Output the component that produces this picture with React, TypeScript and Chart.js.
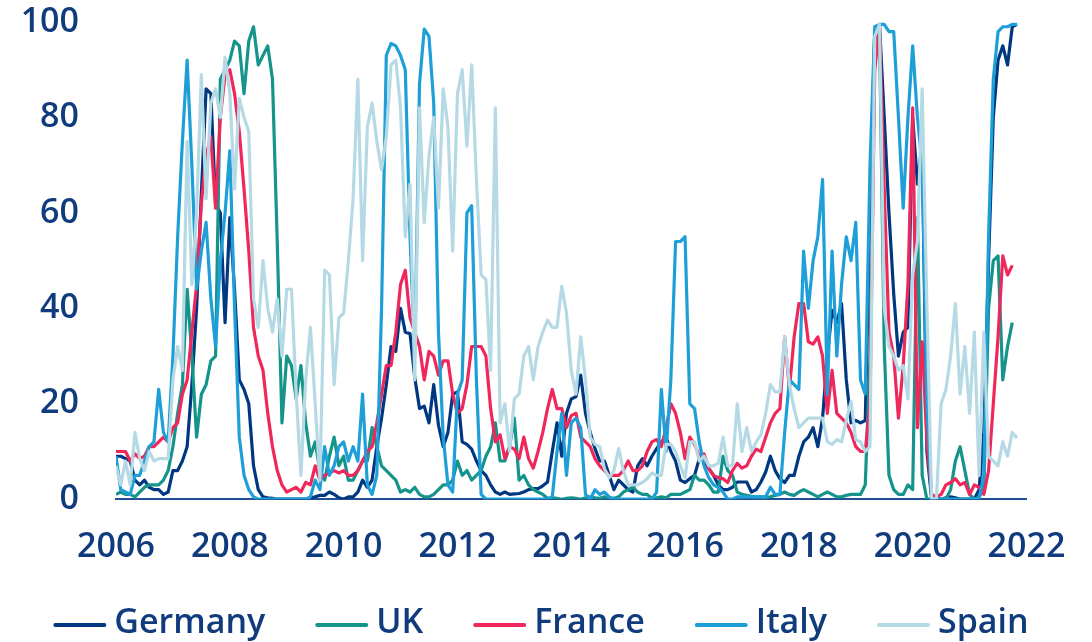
import React, { useEffect, useRef } from "react";
import { Chart, registerables } from "chart.js";

Chart.register(...registerables);

// ---- data (monthly, starting January 2006) ----
const START_YEAR = 2006;
const seriesNames = ["Germany", "UK", "France", "Italy", "Spain"];
const xTickYears = { min: 2006, max: 2022, step: 2 };
const yTicks = { min: 0, max: 100, step: 20 };

const germany = [
  9, 9, 8.5, 8, 4, 3, 4, 2.5, 2, 2, 1, 1.5,
  6, 6, 8, 11, 24, 40, 64, 86, 85, 62, 60, 37,
  59, 44, 25, 23, 20, 7, 2, 0.5, 0.3, 0.2, 0, 0,
  0, 0, 0, 0, 0, 0.3, 0.5, 0.8, 0.8, 1.5, 1, 0.3,
  0, 0.5, 0.5, 1.5, 4, 2.5, 4, 11, 17, 24, 32, 31,
  40, 35, 34.7, 25.5, 19, 19.5, 16, 24, 15.5, 11, 14, 22,
  22.5, 12, 11.5, 10.5, 8, 6, 5, 3, 1.5, 1, 1.5, 1,
  1.1, 1.2, 1.5, 2, 2.2, 2.2, 2.8, 3.6, 10, 16, 9, 18, 21,
  21.5, 26, 18, 14, 10.6, 8, 8, 5, 2, 4, 3, 2,
  1.5, 7, 8.5, 7, 9, 10.6, 12, 13, 10, 8, 4, 3.5,
  4.3, 5, 8.5, 8, 6.4, 5, 3, 2, 2, 2.5, 3.6, 3.6,
  3.6, 1.5, 2, 3.6, 5.7, 9, 6, 4.3, 3.5, 5, 5, 9,
  12, 13, 15, 11, 17, 30, 39.6, 37, 41, 25, 16, 16.5,
  16, 16.5, 60, 98, 99.5, 80, 60, 43, 30, 35, 36, 80,
  66, 75, 10, 0, 0, 0, 0.3, 0.5, 0.3, 0, 0, 0,
  0, 2, 14, 50, 80, 92, 95, 91, 99, 99.5,
];

const uk = [
  1, 1.5, 1, 1, 0.5, 1.5, 2.5, 3, 3, 3, 4, 6,
  11, 18, 24, 44, 30, 13, 22, 24, 29, 30, 88, 90,
  92, 96, 95, 85, 96, 99, 91, 93, 95, 88, 54, 16,
  30, 28, 21, 28, 16, 9, 12, 6, 4, 9, 13, 7,
  9, 4, 4, 6, 8, 8, 15, 11, 7, 6, 5, 4,
  1.5, 2, 1.5, 2.5, 1, 0.5, 0.5, 1, 2, 3, 3, 4,
  8, 5, 6, 4, 5, 6, 9, 11, 16, 8, 8, 11,
  17, 4, 5, 3, 2, 1.5, 1, 0.2, 0.3, 0.2, 0, 0.2, 0.3,
  0.2, 0, 0.3, 0.5, 0.3, 0.2, 0.5, 0.3, 0.2, 0.5, 1.5, 2,
  2.5, 1.5, 1, 1, 0.2, 0.3, 0.5, 0.3, 1, 1, 1, 1.5,
  2, 5, 4, 4, 3, 1.5, 1.5, 9, 6, 5, 1.5, 1,
  0.8, 0.6, 0.5, 0.5, 0.4, 0.5, 0.8, 1, 1.5, 1, 0.8, 1.5,
  2, 1.5, 1, 0.5, 1, 1.5, 1, 0.5, 0.5, 0.8, 1, 1,
  1, 3, 30, 95, 98, 32, 5, 2, 1, 1, 3, 2,
  59, 5, 0, 0, 0, 0, 0, 2, 8, 11, 6, 1,
  0, 0.5, 2, 40, 50, 51, 25, 32, 37,
];

const france = [
  10, 10, 10, 8, 9.5, 8.5, 9, 11, 11, 12, 13, 12,
  15, 16, 22, 25, 35, 45, 62, 72, 76, 61, 80, 89,
  90, 85, 77, 65, 52, 36, 30, 27, 18, 11, 6, 3,
  1.5, 2, 2.5, 1.5, 3.5, 3, 7, 4, 5, 5.5, 6, 5.5,
  6, 5, 5, 6, 8, 10, 11, 16, 22, 28, 28, 35,
  45, 48, 38, 35, 32, 25, 31, 30, 26, 29, 29, 22,
  18, 19, 24, 32, 32, 32, 30, 19, 12, 13.5, 8.5, 11,
  10.5, 8.5, 13, 8.5, 6.5, 10, 14, 19, 23, 19, 19, 15,
  17.5, 18, 13, 12, 11, 8.5, 7, 6, 5, 5, 5, 6, 8,
  6, 6, 7, 10, 12, 12.5, 11, 15, 20, 18, 14, 8.5,
  13, 11.5, 9, 9.5, 6.5, 5, 4.5, 4.3, 3.5, 6, 7.5, 6.5,
  7, 9, 10.5, 10, 13, 16, 18, 19, 34, 23, 34, 41,
  41, 33, 32.5, 34, 30, 18, 27, 18, 17, 16, 14, 11,
  10, 10, 20, 90, 99, 65, 35, 30, 17, 28, 45, 82,
  15, 33, 12, 1, 0.5, 1, 3, 3.5, 4.3, 3, 3.5, 1,
  3, 2.5, 1, 6, 20, 34, 51, 47, 49,
];

const italy = [
  9, 2, 1.5, 1, 5, 5, 8, 11, 12, 23, 14, 12,
  30, 55, 75, 92, 70, 44, 52, 58, 42, 32, 50, 60,
  73, 40, 13, 5, 2, 0.5, 0, 0, 0, 0, 0, 0,
  0, 0, 0, 0, 0, 0.5, 4, 2, 11, 5, 7, 11,
  12, 8, 11, 8, 22, 3, 1, 5, 40, 93, 95.5, 95,
  93, 90, 55, 30, 87, 98.5, 97, 83, 35, 13, 3, 1.5,
  22, 25, 60, 61.5, 25, 1, 0, 0, 0, 0, 0, 0,
  0, 0, 0, 0, 0, 0, 0, 0, 0.5, 10, 18, 5, 16,
  17, 15, 1, 0, 2, 1, 1.5, 0.5, 0, 0, 0, 0,
  0, 0, 0, 0, 0, 1.5, 23, 10, 25, 54, 54, 55,
  20, 19, 12, 7, 4.5, 3, 2.5, 1.5, 0, 0, 0.5, 0.5,
  0.5, 0.5, 0.5, 0.5, 0.5, 2.5, 1, 1, 14, 25, 24, 23,
  52, 40, 50, 55, 67, 22, 52, 30, 45, 55, 50, 58,
  25, 22, 70, 99, 99.5, 99.5, 98, 98, 80, 61, 80, 95,
  80, 70, 20, 0, 0, 0, 0, 0, 0, 0, 0, 0,
  0, 0, 5, 55, 88, 98, 99, 99, 99.5, 99.5,
];

const spain = [
  7, 3, 8, 3, 14, 8.5, 6, 10, 8, 8.5, 8.5, 8.5,
  25, 32, 27, 75, 45, 60, 89, 63, 83, 86, 80, 92.6,
  85, 65, 84, 80, 77, 42, 36, 50, 40, 35, 42, 30,
  44, 44, 22, 5, 25, 36, 20, 4, 48, 47, 24, 38,
  39, 50, 63, 88, 50, 78, 83, 75, 69, 76, 91, 92,
  82, 55, 66, 25, 82, 58, 72, 80, 61, 86, 78, 52,
  85, 90, 74, 91, 67, 47, 46, 27, 82, 16, 20, 10,
  21, 22, 30, 32, 25, 32, 35, 37.5, 36, 36, 44.6, 39,
  27, 22, 34, 25, 13, 11.5, 11, 6.4, 4.5, 6, 10.6, 6,
  3, 3, 3, 3.5, 4.3, 5.5, 5, 5, 11.5, 11.5, 10, 7, 4.5,
  12, 12, 8, 9, 7, 7, 7.5, 13, 7, 7, 20, 10,
  15, 10, 12, 13.5, 18, 24, 22.5, 22.5, 34, 24, 19, 15,
  16, 17, 17, 17, 17, 12, 11.5, 12.5, 12, 16.5, 20.5, 12.5,
  12, 10, 11, 97, 99.5, 40, 32, 30, 27, 28, 21, 47,
  54, 86, 40, 0, 0, 20, 23, 30, 41, 22, 32, 18,
  35, 5, 35, 9, 8, 7, 12, 9, 14, 12.8,
];

const seriesValues = [germany, uk, france, italy, spain];

// ---- styles ----
const COLORS = ["#003781", "#14948a", "#f0275b", "#1f9fd8", "#b5dae5"];
const DRAW_ORDER = [4, 3, 2, 1, 0];
const TEXT_COLOR = "#103b7c";
const AXIS_COLOR = "#224e93";
const FONT_FAMILY = "'Open Sans', 'Noto Sans', sans-serif";
const FONT_WEIGHT = "600";
const FONT_SIZE = 34;

const bottomLegend = {
  id: "bottomLegend",
  afterDraw(chart: any) {
    const ctx = chart.ctx;
    ctx.save();
    ctx.font = `${FONT_WEIGHT} ${FONT_SIZE}px ${FONT_FAMILY}`;
    const lineW = 53;
    const gapBox = 8;
    const gapItem = 50;
    const items = chart.data.datasets.map((ds: any) => ({
      label: ds.label,
      color: ds.borderColor,
      w: ctx.measureText(ds.label).width,
    }));
    const total =
      items.reduce((s: number, it: any) => s + lineW + gapBox + it.w, 0) +
      gapItem * (items.length - 1);
    let x = 541 - total / 2;
    const lineY = 625;
    const baseY = 633;
    for (const it of items) {
      ctx.strokeStyle = it.color;
      ctx.lineWidth = 4;
      ctx.lineCap = "round";
      ctx.beginPath();
      ctx.moveTo(x + 2, lineY);
      ctx.lineTo(x + lineW - 2, lineY);
      ctx.stroke();
      x += lineW + gapBox;
      ctx.fillStyle = TEXT_COLOR;
      ctx.textAlign = "left";
      ctx.textBaseline = "alphabetic";
      ctx.fillText(it.label, x, baseY);
      x += it.w + gapItem;
    }
    ctx.restore();
  },
};

export default function App() {
  const canvasRef = useRef<HTMLCanvasElement | null>(null);

  useEffect(() => {
    document.body.style.margin = "0";
    const canvas = canvasRef.current;
    if (!canvas) return;

    const datasets = seriesNames.map((name, k) => ({
      label: name,
      data: seriesValues[k].map((v, i) => ({ x: START_YEAR + i / 12, y: v })),
      borderColor: COLORS[k],
      backgroundColor: COLORS[k],
      borderWidth: 3.2,
      pointRadius: 0,
      pointHoverRadius: 0,
      tension: 0,
      borderJoinStyle: "round" as const,
      order: DRAW_ORDER[k],
    }));

    const chart = new Chart(canvas, {
      type: "line",
      data: { datasets },
      plugins: [bottomLegend],
      options: {
        responsive: false,
        animation: false,
        devicePixelRatio: 1,
        layout: { padding: { left: 21, right: 65.5, top: 22, bottom: 46 } },
        font: { family: FONT_FAMILY },
        plugins: {
          legend: { display: false },
          tooltip: { enabled: false },
          title: { display: false },
        },
        scales: {
          x: {
            type: "linear",
            min: xTickYears.min,
            max: xTickYears.max,
            grid: { display: false, drawTicks: false },
            border: { display: true, color: AXIS_COLOR, width: 2 },
            ticks: {
              stepSize: xTickYears.step,
              padding: 28,
              color: TEXT_COLOR,
              font: { family: FONT_FAMILY, size: FONT_SIZE, weight: FONT_WEIGHT as any },
              maxRotation: 0,
              autoSkip: false,
              callback: (v: any) => String(v),
            },
            afterFit: (scale: any) => {
              scale.paddingLeft = 0;
              scale.paddingRight = 0;
            },
          },
          y: {
            min: yTicks.min,
            max: yTicks.max,
            grid: { display: false, drawTicks: false },
            border: { display: false },
            ticks: {
              stepSize: yTicks.step,
              padding: 37,
              color: TEXT_COLOR,
              font: { family: FONT_FAMILY, size: FONT_SIZE, weight: FONT_WEIGHT as any },
              callback: (v: any) => String(v),
            },
            afterFit: (scale: any) => {
              scale.width = 95;
              scale.paddingTop = 0;
              scale.paddingBottom = 0;
            },
          },
        },
      },
    });

    return () => chart.destroy();
  }, []);

  return (
    <div style={{ width: 1092, height: 642, background: "#ffffff" }}>
      <canvas ref={canvasRef} width={1092} height={642} />
    </div>
  );
}
